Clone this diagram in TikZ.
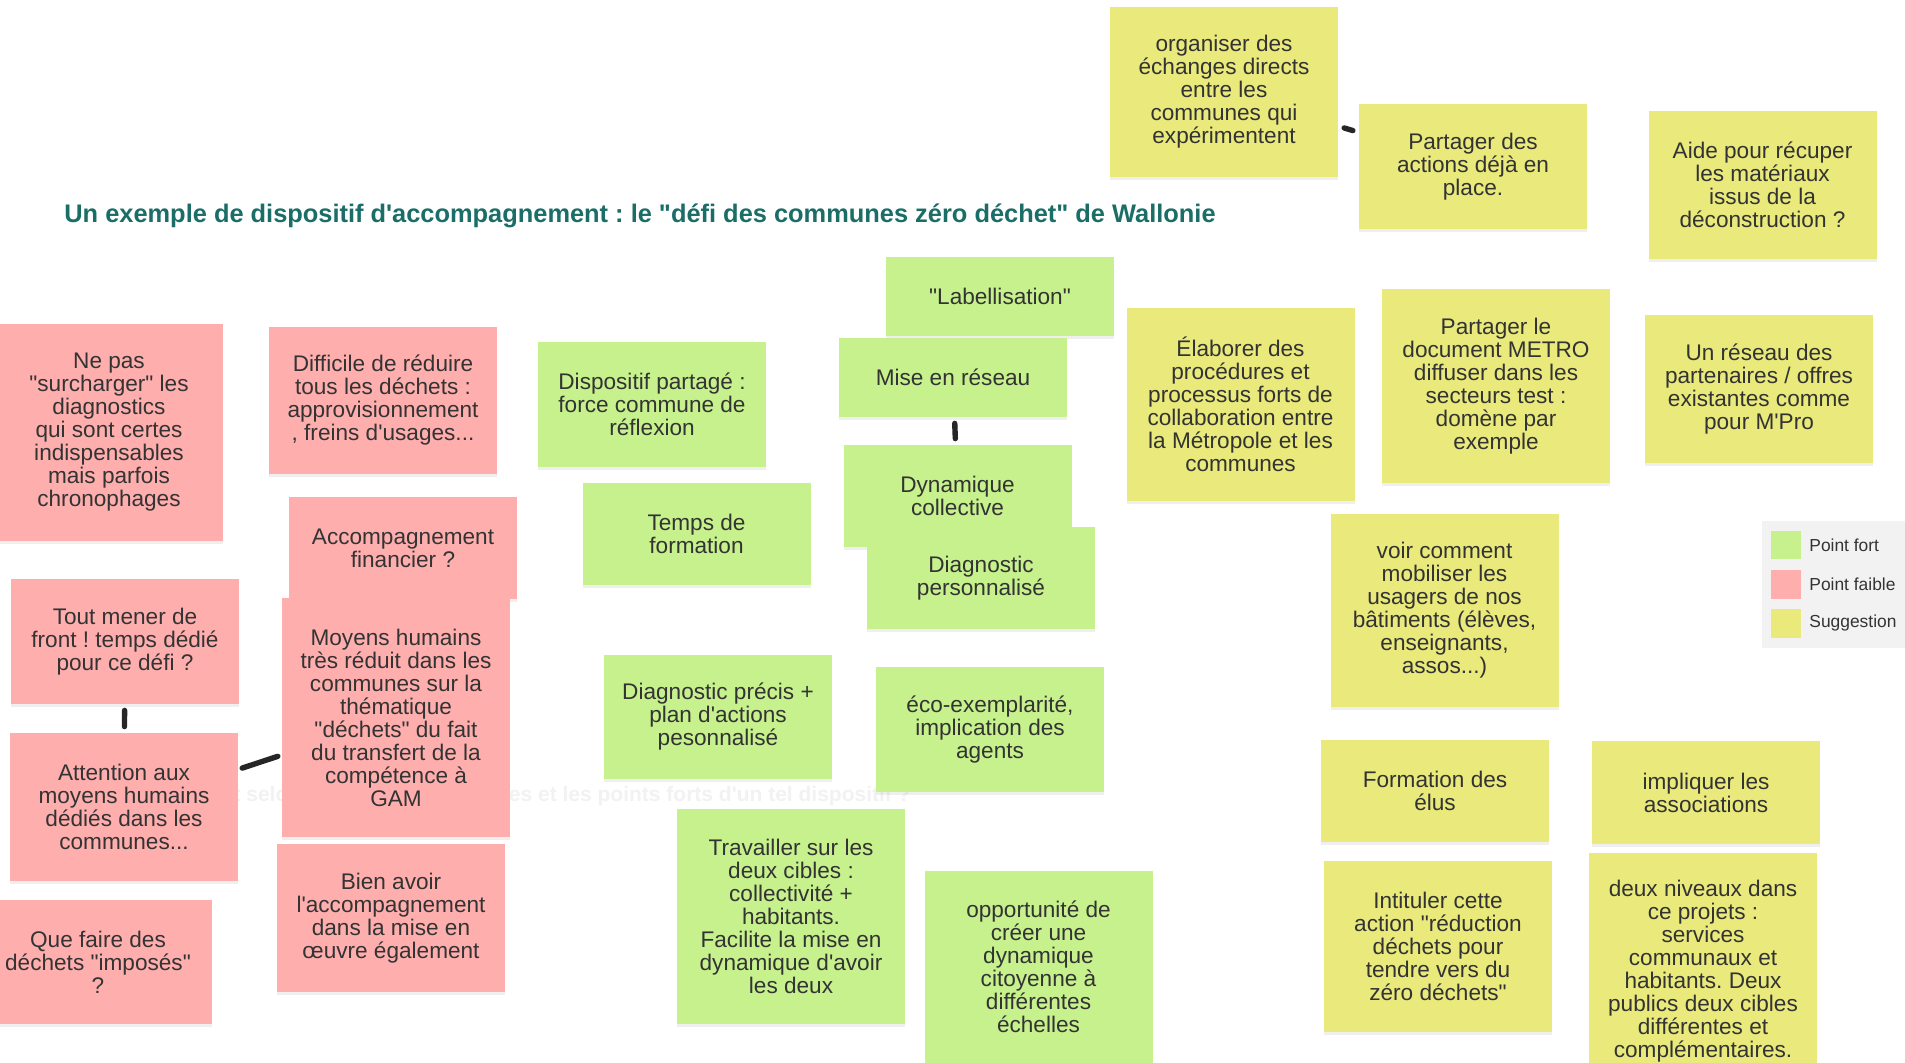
\documentclass[tikz,border=0pt]{standalone}
\usepackage{fontspec}
\newfontfamily\notefont{Liberation Sans}
\usetikzlibrary{shadows}
\definecolor{fortcol}{HTML}{C6F18D}
\definecolor{faiblecol}{HTML}{FFAEAE}
\definecolor{suggcol}{HTML}{E9E97C}
\definecolor{titrecol}{HTML}{1A6E67}
\definecolor{textecol}{HTML}{333333}
\frenchspacing
\begin{document}
\begin{tikzpicture}[x=0.5pt, y=-0.5pt,
	note/.style={rectangle, inner sep=0pt, align=center, text=textecol,
		font=\notefont\fontsize{11.3}{11.5}\selectfont,
		drop shadow={shadow xshift=0pt, shadow yshift=-1.5pt, opacity=0.12}},
	box/.style 2 args={minimum width=#1*0.5pt, minimum height=#2*0.5pt},
	fort/.style={note, fill=fortcol},
	faible/.style={note, fill=faiblecol},
	sugg/.style={note, fill=suggcol},
	legende/.style={anchor=west, inner sep=0pt, text=textecol,
		font=\notefont\fontsize{8.7}{10}\selectfont},
	lien/.style={line width=2.7pt, line cap=round, draw=black!85,
		shorten <=3pt, shorten >=3pt}]
	% Fond
	\fill[white] (0,0) rectangle (1905,1063);
	\useasboundingbox (0,0) rectangle (1905,1063);
	
	% Question effacée
	\node[anchor=east, inner sep=0pt, text=black!5,
	font=\notefont\bfseries\fontsize{10.5}{12}\selectfont] (question) at (911,796)
	{Quels sont selon vous les points faibles et les points forts d'un tel dispositif ?};
	
	% Titre
	\node[anchor=west, inner sep=0pt, text=titrecol,
	font=\notefont\bfseries\fontsize{12.7}{14}\selectfont] (titre) at (64,216)
	{Un exemple de dispositif d'accompagnement : le "défi des communes zéro déchet" de Wallonie};
	
	% Points faibles
	\node[faible, box={228}{217}] (nepas) at (109,432.5)
	{Ne pas\\"surcharger" les\\diagnostics\\qui sont certes\\indispensables\\mais parfois\\chronophages};
	\node[faible, box={228}{147}] (difficile) at (383,400.5)
	{Difficile de réduire\\tous les déchets :\\approvisionnement\\, freins d'usages...};
	\node[faible, box={228}{102}] (accfin) at (403,548)
	{Accompagnement\\financier ?};
	\node[faible, box={228}{125}] (tout) at (125,641.5)
	{Tout mener de\\front ! temps dédié\\pour ce défi ?};
	\node[faible, box={228}{148}] (attention) at (124,807)
	{Attention aux\\moyens humains\\dédiés dans les\\communes...};
	\node[faible, box={228}{239}] (moyens) at (396,717.5)
	{Moyens humains\\très réduit dans les\\communes sur la\\thématique\\"déchets" du fait\\du transfert de la\\compétence à\\GAM};
	\node[faible, box={228}{148}] (bienavoir) at (391,918)
	{Bien avoir\\l'accompagnement\\dans la mise en\\œuvre également};
	\node[faible, box={228}{124}] (quefaire) at (98,962)
	{Que faire des\\déchets "imposés"\\?};
	
	% Points forts
	\node[fort, box={228}{125}] (dispositif) at (652,404.5)
	{Dispositif partagé :\\force commune de\\réflexion};
	\node[fort, box={228}{79}] (label) at (1000,296.5)
	{"Labellisation"};
	\node[fort, box={228}{79}] (reseau) at (953,377.5)
	{Mise en réseau};
	\node[fort, box={228}{102}] (dynamique) at (957.5,496)
	{Dynamique\\collective};
	\node[fort, box={228}{102}] (diagpers) at (981,578)
	{Diagnostic\\personnalisé};
	\node[fort, box={228}{102}] (temps) at (696.5,534)
	{Temps de\\formation};
	\node[fort, box={228}{124}] (diagprec) at (718,717)
	{Diagnostic précis +\\plan d'actions\\pesonnalisé};
	\node[fort, box={228}{125}] (eco) at (990,729.5)
	{éco-exemplarité,\\implication des\\agents};
	\node[fort, box={228}{215}] (travailler) at (791,916.5)
	{Travailler sur les\\deux cibles :\\collectivité +\\habitants.\\Facilite la mise en\\dynamique d'avoir\\les deux};
	\node[fort, box={228}{192}] (opportunite) at (1038.5,967)
	{opportunité de\\créer une\\dynamique\\citoyenne à\\différentes\\échelles};
	
	% Suggestions
	\node[sugg, box={228}{170}] (organiser) at (1224,92)
	{organiser des\\échanges directs\\entre les\\communes qui\\expérimentent};
	\node[sugg, box={228}{125}] (partager) at (1473,166.5)
	{Partager des\\actions déjà en\\place.};
	\node[sugg, box={228}{148}] (aide) at (1762.5,185)
	{Aide pour récuper\\les matériaux\\issus de la\\déconstruction ?};
	\node[sugg, box={228}{193}] (elaborer) at (1240.5,404.5)
	{Élaborer des\\procédures et\\processus forts de\\collaboration entre\\la Métropole et les\\communes};
	\node[sugg, box={228}{194}] (metro) at (1496,386)
	{Partager le\\document METRO\\diffuser dans les\\secteurs test :\\domène par\\exemple};
	\node[sugg, box={228}{148}] (partenaires) at (1759,389)
	{Un réseau des\\partenaires / offres\\existantes comme\\pour M'Pro};
	\node[sugg, box={228}{193}] (usagers) at (1444.5,610.5)
	{voir comment\\mobiliser les\\usagers de nos\\bâtiments (élèves,\\enseignants,\\assos...)};
	\node[sugg, box={228}{102}] (elus) at (1435,791)
	{Formation des\\élus};
	\node[sugg, box={228}{103}] (associations) at (1706,792.5)
	{impliquer les\\associations};
	\node[sugg, box={228}{171}] (intituler) at (1438,946.5)
	{Intituler cette\\action "réduction\\déchets pour\\tendre vers du\\zéro déchets"};
	\node[sugg, box={228}{236}] (niveaux) at (1703,971)
	{deux niveaux dans\\ce projets :\\services\\communaux et\\habitants. Deux\\publics deux cibles\\différentes et\\complémentaires.};
	
	% Liens
	\draw[lien] (tout) -- (attention);
	\draw[lien, shorten <=2pt, shorten >=2pt] (attention) -- (moyens);
	\draw[lien] (reseau) -- (dynamique);
	\draw[lien] (organiser) -- (partager);
	
	% Légende
	\fill[black!5] (1762,521) rectangle (1905,648);
	\node[fill=fortcol, inner sep=0pt, box={30}{28}, anchor=north west] (cfort) at (1771,531) {};
	\node[fill=faiblecol, inner sep=0pt, box={30}{29}, anchor=north west] (cfaible) at (1771,570) {};
	\node[fill=suggcol, inner sep=0pt, box={30}{29}, anchor=north west] (csugg) at (1771,609) {};
	\node[legende] (tfort) at (1809,545) {Point fort};
	\node[legende] (tfaible) at (1809,584.5) {Point faible};
	\node[legende] (tsugg) at (1809,623.5) {Suggestion};
\end{tikzpicture}
\end{document}
